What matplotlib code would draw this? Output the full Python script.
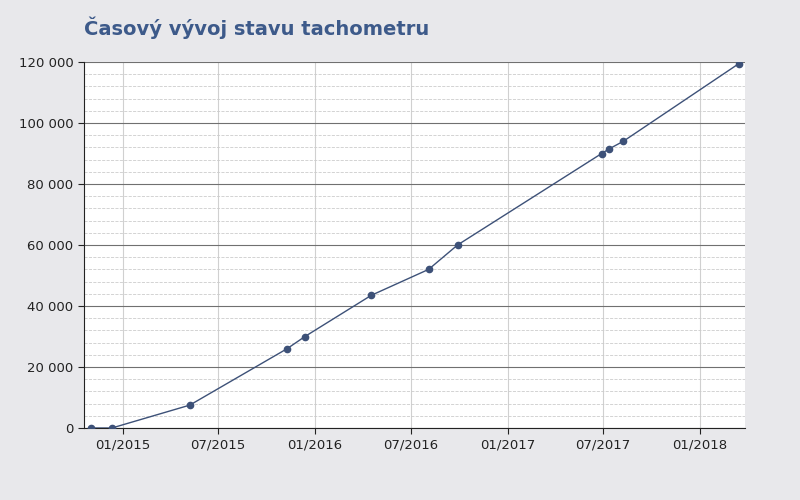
import matplotlib
matplotlib.use('Agg')
import matplotlib.pyplot as plt
import matplotlib.dates as mdates
from matplotlib.ticker import MultipleLocator, FuncFormatter
import datetime as dt

dates = ["2014-11-01", "2014-12-11", "2015-05-08", "2015-11-09", "2015-12-13",
         "2016-04-17", "2016-08-04", "2016-09-28", "2017-06-29", "2017-07-13",
         "2017-08-09", "2018-03-17"]
km = [0, 0, 7500, 26000, 30000, 43500, 52000, 60000, 90000, 91500, 94000, 119500]

x = [dt.datetime.strptime(d, "%Y-%m-%d") for d in dates]

fig = plt.figure(figsize=(8, 5), dpi=100, facecolor='#e8e8eb')
ax = fig.add_axes([0.105, 0.144, 0.826, 0.732])
ax.set_facecolor('white')

ax.plot(x, km, color='#3d5178', lw=1, marker='o', ms=4.5, zorder=3)

ax.set_xlim(dt.datetime(2014, 10, 19), dt.datetime(2018, 3, 28))
ax.set_ylim(0, 120000)
ax.xaxis.set_major_locator(mdates.MonthLocator(bymonth=[1, 7]))
ax.xaxis.set_major_formatter(mdates.DateFormatter('%m/%Y'))
ax.yaxis.set_major_locator(MultipleLocator(20000))
ax.yaxis.set_minor_locator(MultipleLocator(4000))
ax.yaxis.set_major_formatter(FuncFormatter(lambda v, p: f"{int(v):,}".replace(",", " ")))

ax.grid(axis='y', which='major', color='#707070', lw=0.8)
ax.grid(axis='y', which='minor', color='#cccccc', lw=0.6, ls='--')
ax.grid(axis='x', which='major', color='#d0d0d0', lw=0.8)
ax.set_axisbelow(True)

for s in ['top', 'right']:
    ax.spines[s].set_visible(False)
for s in ['left', 'bottom']:
    ax.spines[s].set_color('#222222')
ax.tick_params(axis='both', which='major', labelsize=9.5, colors='#222222', length=4)
ax.tick_params(axis='y', which='minor', length=0)

fig.text(0.105, 0.945, "Časový vývoj stavu tachometru", fontsize=14, fontweight='bold',
         color='#3d5a8a', va='center')

fig.savefig('out.png', facecolor=fig.get_facecolor())
